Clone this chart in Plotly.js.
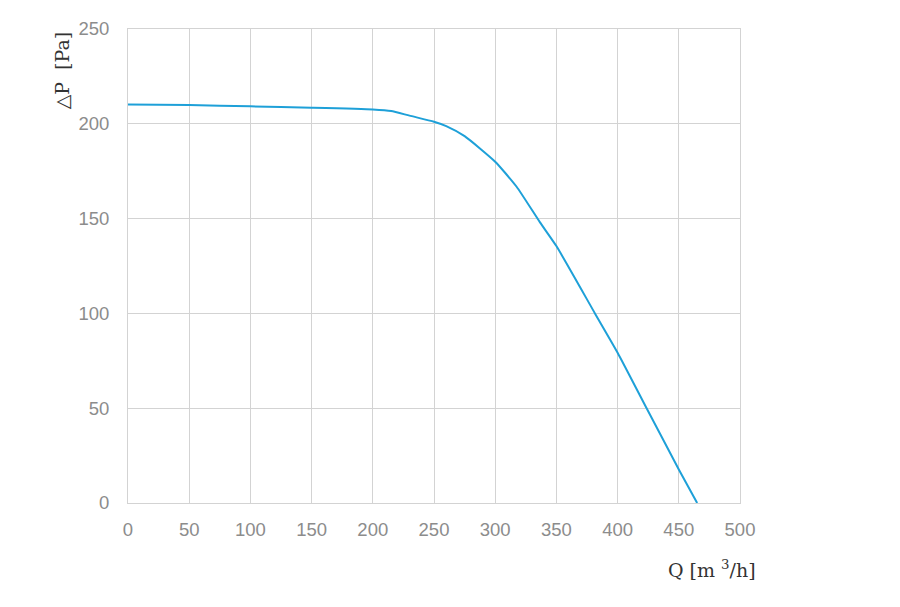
<!DOCTYPE html>
<html>
<head>
<meta charset="utf-8">
<script src="https://cdn.plot.ly/plotly-3.0.1.min.js"></script>
<style>
	html, body { margin: 0; padding: 0; background: #fff; }
	#plot { width: 900px; height: 607px; }
</style>
</head>
<body>
<div id="plot"></div>
<script>
	// Fan curve: airflow Q [m3/h] vs static pressure dP [Pa]
	const flowQ = [0, 50, 100, 150, 200, 215, 230, 250, 260, 275, 300, 317.5, 336.6, 350, 381.5, 400, 423.7, 450, 465];
	const pressure = [210.2, 209.9, 209.2, 208.5, 207.6, 206.8, 204.3, 201.1, 198.8, 193.5, 180, 166.8, 148, 135.5, 100, 79.3, 50, 17.7, 0];
	const xTicks = [0, 50, 100, 150, 200, 250, 300, 350, 400, 450, 500];
	const yTicks = [0, 50, 100, 150, 200, 250];

	const gridColor = '#d3d3d3';
	const tickFont = { family: 'Liberation Sans, Arial, sans-serif', size: 18.5, color: '#8c8c8c' };
	const titleFont = { family: 'DejaVu Serif, Liberation Serif, serif', size: 19, color: '#333' };

	const data = [{
		x: flowQ,
		y: pressure,
		mode: 'lines',
		line: { color: '#1ea0d8', width: 2, shape: 'spline', smoothing: 0.5 },
		hoverinfo: 'x+y'
	}];

	const layout = {
		width: 900,
		height: 607,
		paper_bgcolor: '#fff',
		plot_bgcolor: '#fff',
		showlegend: false,
		margin: { l: 128, r: 160, t: 29, b: 104 },
		xaxis: {
			range: [0, 500],
			tickvals: xTicks,
			tickfont: tickFont,
			showgrid: true,
			gridcolor: gridColor,
			gridwidth: 1,
			zeroline: false,
			showline: true,
			mirror: true,
			linecolor: gridColor,
			ticks: '',
			ticklabelstandoff: 10
		},
		yaxis: {
			range: [0, 250],
			tickvals: yTicks,
			tickfont: tickFont,
			showgrid: true,
			gridcolor: gridColor,
			gridwidth: 1,
			zeroline: false,
			showline: true,
			mirror: true,
			linecolor: gridColor,
			ticks: '',
			ticklabelstandoff: 14
		},
		annotations: [
			{
				text: '△P\u00a0\u00a0[Pa]',
				xref: 'paper', yref: 'paper',
				x: -0.086, y: 1.0,
				xanchor: 'right', yanchor: 'top',
				textangle: -90,
				showarrow: false,
				font: titleFont
			},
			{
				text: 'Q\u00a0[m\u00a0<sup>3</sup>/h]',
				xref: 'paper', yref: 'paper',
				x: 1.03, y: -0.11,
				xanchor: 'right', yanchor: 'top',
				showarrow: false,
				font: titleFont
			}
		]
	};

	Plotly.newPlot('plot', data, layout, { displayModeBar: false, staticPlot: true });
</script>
</body>
</html>
